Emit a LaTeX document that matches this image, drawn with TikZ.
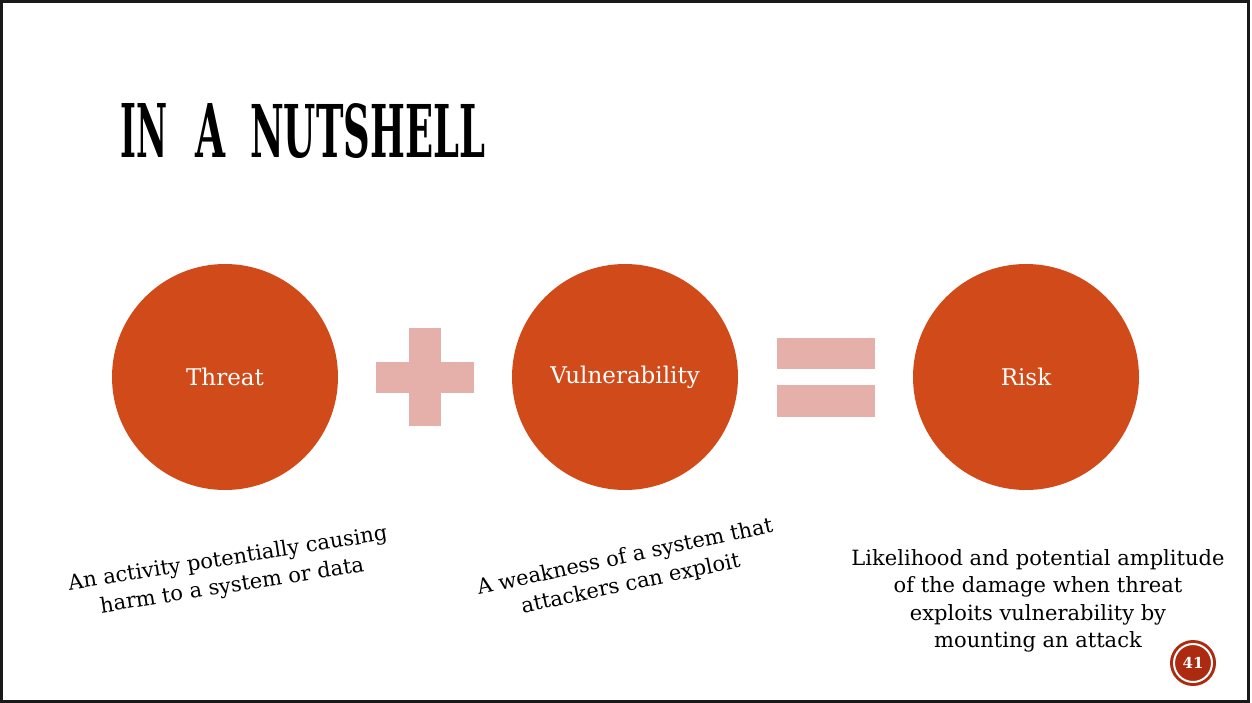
\documentclass[tikz,border=0pt]{standalone}
\usepackage{fontspec}
\usepackage{graphicx}
\setmainfont{DejaVu Serif}
\definecolor{disc}{RGB}{209,74,26}
\definecolor{sign}{RGB}{230,176,170}
\definecolor{badge}{RGB}{172,42,16}
\begin{document}
\begin{tikzpicture}[x=1pt,y=-1pt,
  bubble/.style={circle,fill=disc,draw=none,minimum size=226pt,inner sep=0pt,
    text=white,font=\fontsize{23}{27}\selectfont},
  signbar/.style={fill=sign,draw=none},
  caption/.style={align=center,inner sep=0pt,font=\fontsize{21}{27.5}\selectfont},
  heading/.style={anchor=north west,inner sep=0pt}]
\useasboundingbox (0,0) rectangle (1252,703);
% slide frame
\draw[line width=3pt,black!90] (1.5,2) rectangle (1248.5,701.5);
% heading, one word at a time
\node[heading] (titleA) at (120,103) {\resizebox{47pt}{54pt}{\bfseries IN}};
\node[heading] (titleB) at (195,103) {\resizebox{30pt}{54pt}{\bfseries A}};
\node[heading] (titleC) at (250,103) {\resizebox{235pt}{54pt}{\bfseries NUTSHELL}};
% the three terms
\node[bubble] (threat) at (225,377) {Threat};
\node[bubble] (vuln) at (625,377) {Vulnerability};
\node[bubble] (risk) at (1026,377) {Risk};
% plus sign
\fill[signbar] (409,328) rectangle (441,426);
\fill[signbar] (376,362) rectangle (474,393);
% equals sign
\fill[signbar] (777,338) rectangle (875,369);
\fill[signbar] (777,385) rectangle (875,417);
% definitions
\node[caption,rotate=9] (threatdef) at (230,573)
  {An activity potentially causing\\harm to a system or data};
\node[caption,rotate=12] (vulndef) at (628,571)
  {A weakness of a system that\\attackers can exploit};
\node[caption] (riskdef) at (1038,601)
  {Likelihood and potential amplitude\\of the damage when threat\\exploits vulnerability by\\mounting an attack};
% page number badge
\node[circle,fill=badge,minimum size=46pt,inner sep=0pt] (page) at (1193,663) {};
\draw[white,line width=2pt] (page.center) circle (19pt);
\node[text=white,font=\bfseries\fontsize{15}{15}\selectfont] (pagenum) at (page.center) {41};
\end{tikzpicture}
\end{document}
